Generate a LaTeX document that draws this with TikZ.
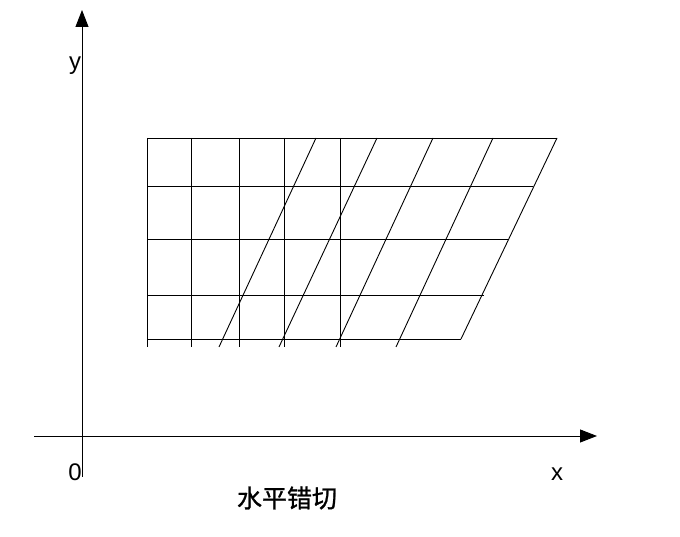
\documentclass[tikz,border=0pt]{standalone}
\usepackage{fontspec}
\setmainfont{Liberation Sans}
\newfontfamily\cjk[FakeBold=1]{Noto Sans CJK SC}
\usetikzlibrary{arrows.meta, positioning}

\begin{document}
\begin{tikzpicture}[x=1pt, y=1pt, line width=0.9pt]
    \useasboundingbox (0,0) rectangle (680,537);
    \tikzset{axis/.style={-{Triangle[length=17pt, width=13pt]}},
             gridline/.style={black, line width=0.9pt},
             lbl/.style={font=\fontsize{24}{28}\selectfont, inner sep=0pt}}

    % Axes
    \coordinate (xstart) at (34,101);
    \coordinate (xend) at (597,101);
    \coordinate (ystart) at (82,60);
    \coordinate (yend) at (82,527);
    \draw[axis] (xstart) -- (xend);
    \draw[axis] (ystart) -- (yend);
    \node[lbl] at (75,471) (ylabel) {y};
    \node[lbl] at (75,65) (origin) {0};
    \node[lbl] at (557,63) (xlabel) {x};

    % Original grid: vertical lines
    \draw[gridline] (147,399) -- (147,190);
    \draw[gridline] (191,399) -- (191,190);
    \draw[gridline] (239,399) -- (239,190);
    \draw[gridline] (284,399) -- (284,190);
    \draw[gridline] (340,399) -- (340,190);

    % Horizontal lines (shared by both grids)
    \draw[gridline] (147,399) -- (557,399);
    \draw[gridline] (147,351) -- (533,351);
    \draw[gridline] (147,298) -- (508,298);
    \draw[gridline] (147,242) -- (484,242);
    \draw[gridline] (147,198) -- (461,198);

    % Sheared grid: slanted lines
    \draw[gridline] (316,399) -- (219,190);
    \draw[gridline] (377,399) -- (279,190);
    \draw[gridline] (433,399) -- (336,190);
    \draw[gridline] (493,399) -- (396,190);
    \draw[gridline] (557,399) -- (461,198);

    % Caption
    \node[font=\cjk\fontsize{25}{29}\selectfont, inner sep=0pt] at (287,39) (caption) {水平错切};
\end{tikzpicture}
\end{document}
